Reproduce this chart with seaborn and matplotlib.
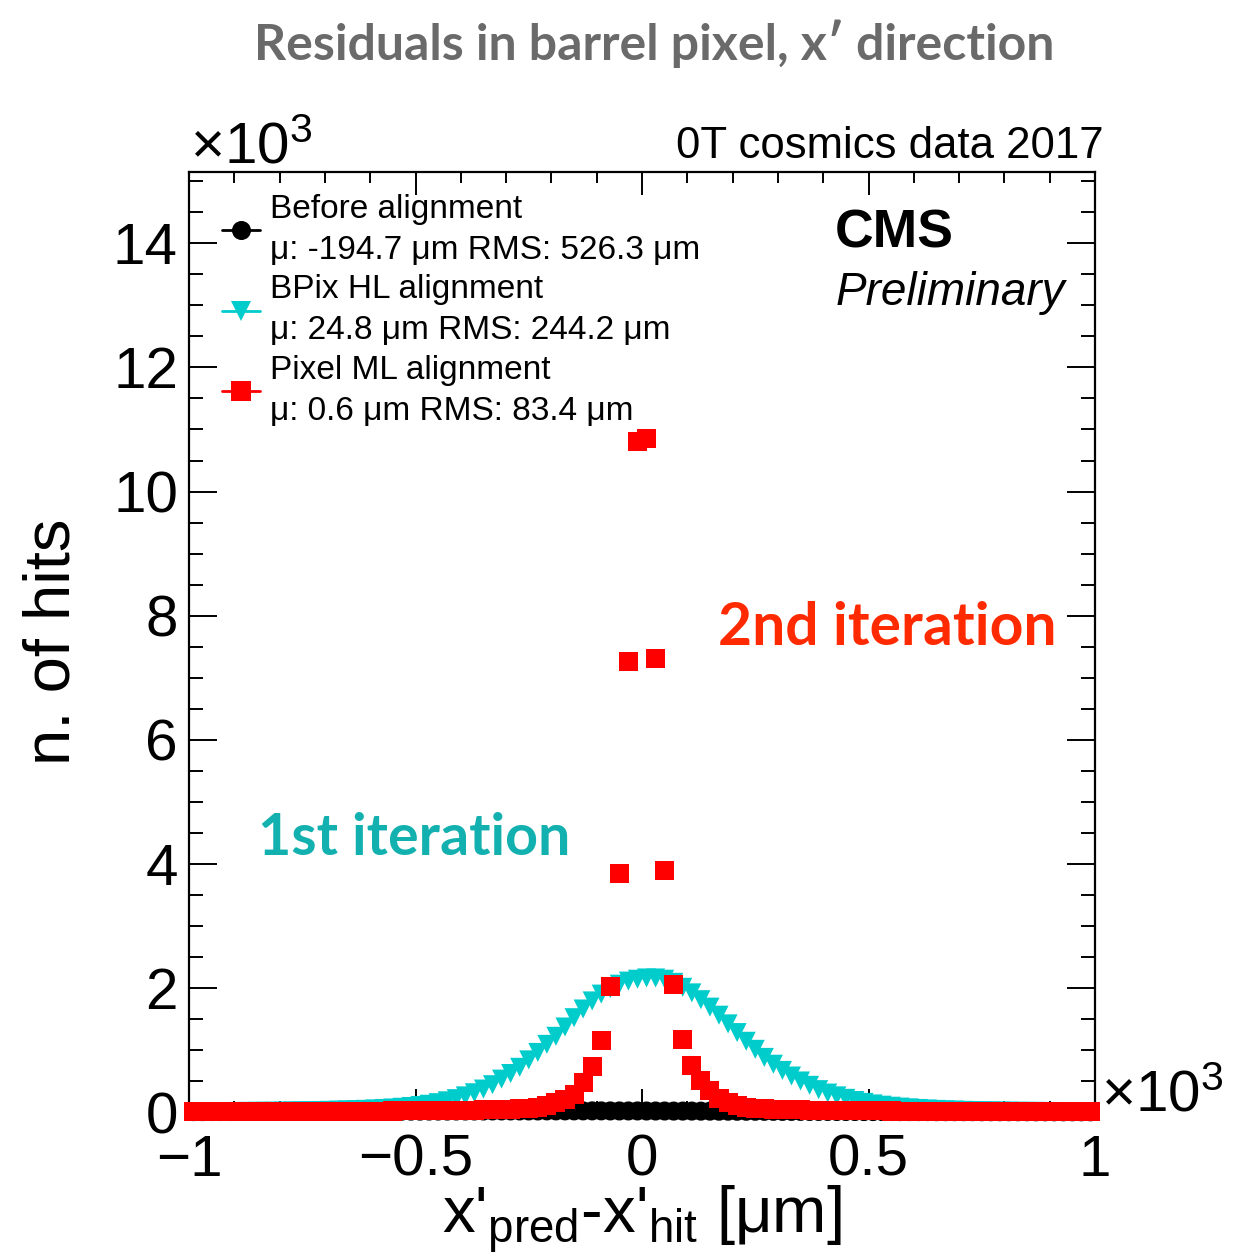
import numpy as np
import pandas as pd
import matplotlib
matplotlib.use("Agg")
import matplotlib.pyplot as plt
import matplotlib.font_manager as fm
from matplotlib.ft2font import FT2Font
from matplotlib.textpath import TextPath
from matplotlib.lines import Line2D
from matplotlib.ticker import MultipleLocator, FuncFormatter
import seaborn as sns

# ---------------------------------------------------------------------------
# Histogram: 100 bins over [-1000, 1000] um, values in units of 10^3
# ---------------------------------------------------------------------------
bin_edges = np.linspace(-1.0, 1.0, 101)          # x'pred - x'hit  [10^3 um]
bin_centers = 0.5 * (bin_edges[:-1] + bin_edges[1:])

# Before alignment (black)
before_hits = [
    0.006, 0.006, 0.007, 0.007, 0.007, 0.008, 0.008, 0.008, 0.009, 0.009,
    0.009, 0.010, 0.010, 0.010, 0.011, 0.011, 0.011, 0.012, 0.012, 0.012,
    0.013, 0.013, 0.013, 0.014, 0.014, 0.014, 0.015, 0.015, 0.015, 0.016,
    0.016, 0.016, 0.016, 0.017, 0.017, 0.017, 0.017, 0.017, 0.017, 0.018,
    0.018, 0.018, 0.018, 0.018, 0.018, 0.018, 0.017, 0.017, 0.017, 0.017,
    0.016, 0.016, 0.016, 0.015, 0.015, 0.015, 0.014, 0.014, 0.013, 0.013,
    0.012, 0.012, 0.012, 0.011, 0.011, 0.010, 0.010, 0.010, 0.009, 0.009,
    0.009, 0.008, 0.008, 0.008, 0.007, 0.007, 0.007, 0.007, 0.006, 0.006,
    0.006, 0.006, 0.005, 0.005, 0.005, 0.005, 0.005, 0.004, 0.004, 0.004,
    0.004, 0.004, 0.004, 0.003, 0.003, 0.003, 0.003, 0.003, 0.003, 0.003,
]

# BPix HL alignment (1st iteration, cyan)
bpix_hl_hits = [
    0.005, 0.005, 0.006, 0.007, 0.008, 0.009, 0.010, 0.011, 0.012, 0.013,
    0.015, 0.017, 0.019, 0.021, 0.024, 0.027, 0.030, 0.034, 0.038, 0.043,
    0.049, 0.056, 0.065, 0.076, 0.089, 0.105, 0.125, 0.150, 0.180, 0.215,
    0.260, 0.310, 0.370, 0.440, 0.530, 0.620, 0.720, 0.840, 0.960, 1.090,
    1.220, 1.370, 1.520, 1.660, 1.790, 1.900, 1.990, 2.060, 2.110, 2.140,
    2.160, 2.160, 2.140, 2.090, 2.010, 1.920, 1.810, 1.690, 1.560, 1.420,
    1.280, 1.140, 1.010, 0.880, 0.770, 0.670, 0.580, 0.500, 0.430, 0.360,
    0.305, 0.260, 0.220, 0.185, 0.155, 0.130, 0.110, 0.093, 0.079, 0.067,
    0.057, 0.049, 0.042, 0.036, 0.031, 0.027, 0.023, 0.020, 0.018, 0.016,
    0.014, 0.012, 0.011, 0.010, 0.009, 0.008, 0.007, 0.006, 0.006, 0.005,
]

# Pixel ML alignment (2nd iteration, red)
pixel_ml_hits = [
    0.004, 0.004, 0.004, 0.005, 0.005, 0.005, 0.006, 0.006, 0.006, 0.007,
    0.007, 0.008, 0.008, 0.009, 0.009, 0.010, 0.010, 0.011, 0.012, 0.013,
    0.014, 0.015, 0.016, 0.017, 0.018, 0.019, 0.020, 0.022, 0.024, 0.026,
    0.028, 0.030, 0.033, 0.036, 0.040, 0.045, 0.052, 0.060, 0.072, 0.100,
    0.150, 0.205, 0.285, 0.480, 0.740, 1.150, 2.030, 3.840, 7.260, 10.810,
    10.860, 7.310, 3.890, 2.060, 1.170, 0.750, 0.510, 0.340, 0.210, 0.150,
    0.100, 0.080, 0.062, 0.053, 0.046, 0.041, 0.037, 0.033, 0.030, 0.028,
    0.026, 0.024, 0.022, 0.020, 0.019, 0.018, 0.017, 0.016, 0.015, 0.014,
    0.013, 0.012, 0.011, 0.010, 0.010, 0.009, 0.009, 0.008, 0.008, 0.007,
    0.007, 0.006, 0.006, 0.006, 0.005, 0.005, 0.005, 0.004, 0.004, 0.004,
]

series_labels = [
    "Before alignment\n\u03bc: -194.7 \u03bcm RMS: 526.3 \u03bcm",
    "BPix HL alignment\n\u03bc: 24.8 \u03bcm RMS: 244.2 \u03bcm",
    "Pixel ML alignment\n\u03bc: 0.6 \u03bcm RMS: 83.4 \u03bcm",
]
series_colors = ["#000000", "#00cccc", "#ff0000"]
series_markers = ["o", "v", "s"]

x_ticks = [-1.0, -0.5, 0.0, 0.5, 1.0]
y_ticks = [0, 2, 4, 6, 8, 10, 12, 14]

# ---------------------------------------------------------------------------
# Style
# ---------------------------------------------------------------------------
sns.set_theme(style="ticks")
plt.rcParams["font.family"] = ["Liberation Sans", "DejaVu Sans"]
plt.rcParams["mathtext.fontset"] = "custom"
plt.rcParams["mathtext.rm"] = "Liberation Sans"
plt.rcParams["mathtext.it"] = "Liberation Sans:italic"
plt.rcParams["mathtext.bf"] = "Liberation Sans:bold"
plt.rcParams["mathtext.default"] = "regular"
plt.rcParams["axes.unicode_minus"] = True
for key in ["text.color", "axes.labelcolor", "xtick.color", "ytick.color",
            "xtick.labelcolor", "ytick.labelcolor", "axes.edgecolor"]:
    plt.rcParams[key] = "black"


def _weight_num(w):
    if isinstance(w, str):
        return fm.weight_dict.get(w, 400)
    return int(w)


HEADLINE = "Residuals in barrel pixel, x\u2032 direction"
SANS_FAMILIES = {
    "dejavu sans", "dejavu sans condensed", "liberation sans",
    "liberation sans narrow", "noto sans", "noto sans condensed",
    "noto sans semicondensed", "noto sans extracondensed", "noto sans display",
    "roboto", "roboto condensed", "open sans", "open sans condensed",
    "open sans semicondensed", "lato", "inter",
}


def headline_font(sample, width_to_cap):
    """Bold sans face whose proportions are closest to a condensed headline."""
    best, best_err = None, None
    seen = set()
    for f in fm.fontManager.ttflist:
        if f.name.lower() not in SANS_FAMILIES:
            continue
        if f.style != "normal" or not (650 <= _weight_num(f.weight) <= 800):
            continue
        if f.fname in seen or len(seen) > 30:
            continue
        seen.add(f.fname)
        try:
            prop = fm.FontProperties(fname=f.fname)
            w = TextPath((0, 0), sample, size=100, prop=prop).get_extents().width
            h = TextPath((0, 0), "H", size=100, prop=prop).get_extents().height
        except Exception:
            continue
        if h <= 0:
            continue
        err = abs(np.log((w / h) / width_to_cap))
        if best_err is None or err < best_err:
            best, best_err = f.fname, err
    if best is None:
        return fm.FontProperties(family=["Liberation Sans", "DejaVu Sans"],
                                 weight="bold"), True
    try:
        has_prime = 0x2032 in FT2Font(best).get_charmap()
    except Exception:
        has_prime = False
    return fm.FontProperties(fname=best), has_prime


W, H = 1247, 1258
fig = plt.figure(figsize=(W / 100, H / 100), dpi=100)
fig.patch.set_facecolor("white")

L, R, T, B = 189, 1095, 172, 1112
ax = fig.add_axes([L / W, 1 - B / H, (R - L) / W, (B - T) / H])
ax.set_facecolor("white")

df = pd.DataFrame({
    "x": np.tile(bin_centers, 3),
    "hits": np.concatenate([before_hits, bpix_hl_hits, pixel_ml_hits]),
    "series": np.repeat(["before", "bpix", "pixel"], len(bin_centers)),
})

msize = 13.7  # marker side in points
for key, color, marker, z in zip(["before", "bpix", "pixel"], series_colors,
                                 series_markers, [3, 4, 5]):
    sub = df[df["series"] == key]
    sns.scatterplot(data=sub, x="x", y="hits", marker=marker, color=color,
                    s=msize ** 2, linewidth=0, edgecolor="none", ax=ax,
                    legend=False, clip_on=False, zorder=z)

ax.set_xlim(-1.0, 1.0)
ax.set_ylim(0, 15.15)

ax.xaxis.set_minor_locator(MultipleLocator(0.1))
ax.yaxis.set_minor_locator(MultipleLocator(0.5))
ax.set_xticks(x_ticks)
ax.set_yticks(y_ticks)


def fmt(v, _pos):
    s = f"{v:g}"
    return s.replace("-", "\u2212")


ax.xaxis.set_major_formatter(FuncFormatter(fmt))
ax.yaxis.set_major_formatter(FuncFormatter(fmt))

ax.tick_params(axis="both", which="both", direction="in", top=True, right=True,
               color="black", width=1.4, labelcolor="black")
ax.tick_params(axis="x", which="major", length=16.5, labelsize=42, pad=15.5)
ax.tick_params(axis="x", which="minor", length=8)
ax.tick_params(axis="y", which="major", length=20, labelsize=42, pad=8)
ax.tick_params(axis="y", which="minor", length=10)
for sp in ax.spines.values():
    sp.set_linewidth(1.6)
    sp.set_color("black")
    sp.set_visible(True)

ax.set_xlabel("x'$_{pred}$-x'$_{hit}$ [\u03bcm]", fontsize=47, color="black")
ax.set_ylabel("n. of hits", fontsize=47, color="black")
ax.yaxis.set_label_coords(-0.118, 0.5)
ax.xaxis.set_label_coords(0.5, -0.077)

# Legend
handles = [Line2D([], [], color=c, marker=m, markersize=msize, linewidth=2,
                  markeredgewidth=0)
           for c, m in zip(series_colors, series_markers)]
leg = ax.legend(handles, series_labels, loc="upper left",
                bbox_to_anchor=((222 - L) / (R - L), 1 - (194 - T) / (B - T)),
                frameon=False, fontsize=24, handlelength=1.15,
                handletextpad=0.3, labelspacing=0.25, borderpad=0,
                borderaxespad=0, numpoints=1)
for t in leg.get_texts():
    t.set_linespacing(1.42)
    t.set_color("black")


def px(x, y):
    return x / W, 1 - y / H


# Exponent labels
fig.text(*px(190, 163), r"$\times10^{3}$", fontsize=42, ha="left", va="baseline")
fig.text(*px(1101, 1112), r"$\times10^{3}$", fontsize=42, ha="left", va="baseline")

# Top-right caption and CMS label
fig.text(*px(1104, 158), "0T cosmics data 2017", fontsize=31.5, ha="right",
         va="baseline")
fig.text(*px(835, 247), "CMS", fontsize=38.5, fontweight="bold", ha="left",
         va="baseline")
fig.text(*px(836, 305), "Preliminary", fontsize=33, fontstyle="italic",
         ha="left", va="baseline")

# Headline and iteration annotations (bold condensed)
cfp, prime_ok = headline_font("Residuals in barrel pixel, x direction", 801 / 38)
headline = HEADLINE if prime_ok else HEADLINE.replace("\u2032", "\u2019")
title = fig.text(*px(654, 60), headline, fontproperties=cfp.copy(),
                 color="#6a6a6a", ha="center", va="baseline")
it1 = fig.text(*px(258, 855), "1st iteration", fontproperties=cfp.copy(),
               color="#13b0b0", ha="left", va="baseline")
it2 = fig.text(*px(718, 645), "2nd iteration", fontproperties=cfp.copy(),
               color="#ff2a00", ha="left", va="baseline")

fig.canvas.draw()
renderer = fig.canvas.get_renderer()
for txt, target, start in [(title, 801, 50), (it1, 312, 50), (it2, 338, 50)]:
    txt.set_fontsize(start)
    for _ in range(2):
        w = txt.get_window_extent(renderer=renderer).width
        txt.set_fontsize(txt.get_fontsize() * target / w)

fig.savefig("out.png", dpi=100, facecolor="white")
